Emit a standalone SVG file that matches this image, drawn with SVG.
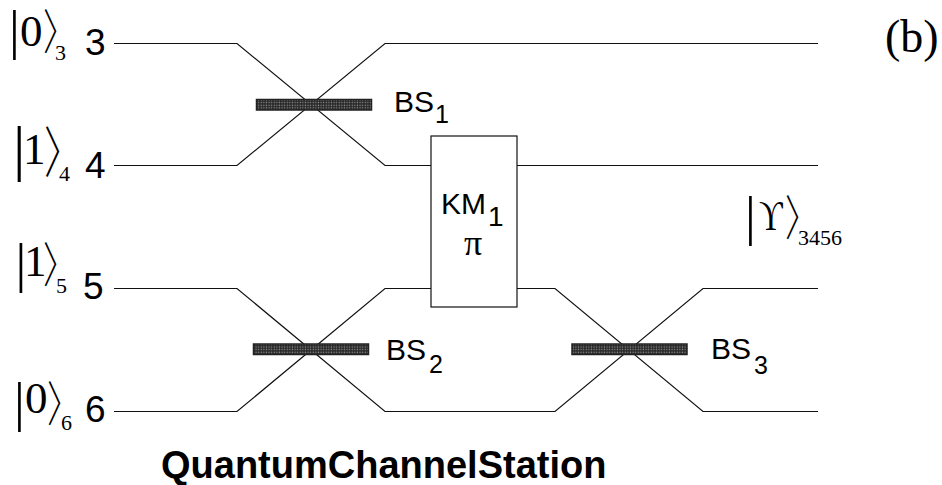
<svg xmlns="http://www.w3.org/2000/svg" width="942" height="485" viewBox="0 0 942 485">
<style>
.w{fill:none;stroke:#111;stroke-width:1.2}
.s{font-family:"Liberation Sans",Arial,sans-serif;fill:#000}
.t{font-family:"Liberation Serif","Times New Roman",serif;fill:#000}
.k{font-family:"Noto Sans CJK JP",sans-serif;font-size:48px;font-weight:300;fill:#000}
.n{font-size:37px}
.l{font-size:30px}
.i{font-size:25px}
.z{font-size:45px}
.b{font-size:54px}
.sub{font-size:22px}
.bs{fill:url(#dots);stroke:#222;stroke-width:1.5}
</style>
<defs>
<pattern id="dots" width="2.6" height="2.6" patternUnits="userSpaceOnUse">
<rect width="2.6" height="2.6" fill="#222"/>
<rect x="0.6" y="0.6" width="1.3" height="1.3" fill="#999"/>
</pattern>
</defs>
<g id="connectors">
<path class="w" d="M114 43.500H237L385 165.500H431"/>
<path class="w" d="M114 165.500H237L385 43.500H818"/>
<path class="w" d="M517 165.500H818"/>
<path class="w" d="M114 288.500H237L385 411.500H555L703 288.500H818"/>
<path class="w" d="M114 411.500H237L385 288.500H431"/>
<path class="w" d="M517 288.500H555L703 411.500H818"/>
</g>
<g id="bs1"><rect class="bs" x="256.500" y="99.500" width="115" height="10.500"/><text class="s l" x="394" y="112">BS<tspan class="i" dx="1" dy="11">1</tspan></text></g>
<g id="bs2"><rect class="bs" x="253.500" y="344" width="115" height="10.500"/><text class="s l" x="386" y="360">BS<tspan class="i" dx="3" dy="13">2</tspan></text></g>
<g id="bs3"><rect class="bs" x="572" y="344" width="115" height="10.500"/><text class="s l" x="711" y="359">BS<tspan class="i" dx="3" dy="15">3</tspan></text></g>
<g id="km1"><rect x="431" y="136" width="86" height="171" fill="#fff" stroke="#111" stroke-width="1.2"/>
<text class="s l" x="441" y="213.500">KM<tspan font-size="28" dx="2" dy="12.500">1</tspan></text>
<text class="t" font-size="36" x="473" y="255" text-anchor="middle">π</text></g>
<g id="label-3"><text class="t b" x="9" y="48">|</text><text class="t z" x="20" y="46">0</text><text class="k" transform="translate(43,49) scale(.7,1)">〉</text><text class="t sub" x="55" y="60">3</text><text class="s n" x="85" y="55">3</text></g>
<g id="label-4"><text class="t" font-size="62" x="13" y="168.500">|</text><text class="t z" x="23" y="164">1</text><text class="k" style="font-size:55px" transform="translate(44,172) scale(.7,1)">〉</text><text class="t sub" x="59" y="181">4</text><text class="s n" x="85" y="178">4</text></g>
<g id="label-5"><text class="t b" x="15.500" y="280.500">|</text><text class="t z" x="24" y="276">1</text><text class="k" transform="translate(43,282) scale(.7,1)">〉</text><text class="t sub" x="56" y="293">5</text><text class="s n" x="83" y="299">5</text></g>
<g id="label-6"><text class="t b" x="14" y="420">|</text><text class="t z" x="25" y="413">0</text><text class="k" transform="translate(47,421) scale(.7,1)">〉</text><text class="t sub" x="61" y="430">6</text><text class="s n" x="85" y="422">6</text></g>
<g id="state"><text class="t b" x="745" y="234">|</text><text class="t" font-size="42" transform="translate(759,230) scale(.78,1)">ϒ</text><text class="k" transform="translate(785,235) scale(.7,1)">〉</text><text class="t sub" x="798" y="245">3456</text></g>
<text id="panel" class="t" font-size="46" x="885" y="52">(b)</text>
<text id="title" class="s" font-size="38" font-weight="bold" x="161" y="478">QuantumChannelStation</text>
</svg>
